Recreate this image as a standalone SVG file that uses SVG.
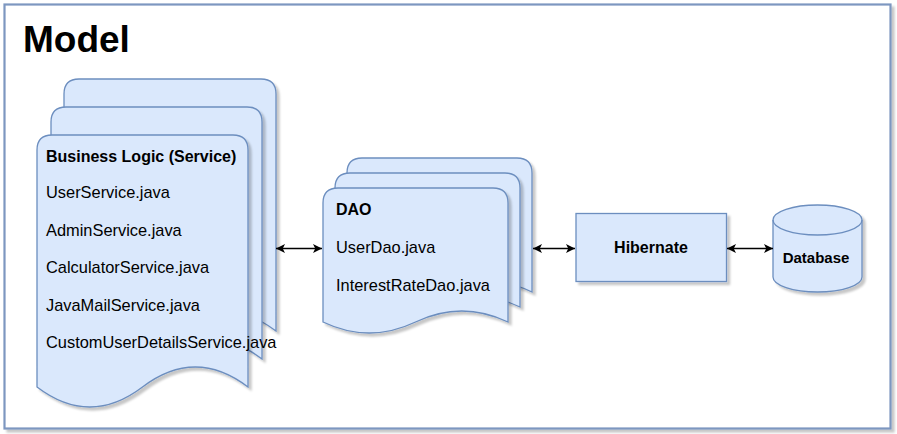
<svg xmlns="http://www.w3.org/2000/svg" width="897" height="434" viewBox="0 0 897 434">
<style>
.shape{fill:#dae8fc;stroke:#6c8ebf;stroke-width:1.3;filter:url(#sh)}
.t{font-family:"Liberation Sans",Arial,sans-serif;font-size:16.4px;fill:#000}
.b{font-weight:bold;font-size:16px}
.conn{stroke:#000;stroke-width:1.6;fill:none;marker-start:url(#ah);marker-end:url(#ah)}
</style>
<defs>
<filter id="sh" x="-10%" y="-10%" width="130%" height="130%">
<feDropShadow dx="3" dy="3" stdDeviation="1" flood-color="#000" flood-opacity="0.22"/>
</filter>
<marker id="ah" viewBox="0 0 10 10" refX="10" refY="5" markerWidth="9" markerHeight="9" markerUnits="userSpaceOnUse" orient="auto-start-reverse">
<path d="M0,0 L10,5 L0,10 L2.5,5 Z" fill="#000"/>
</marker>
</defs>
<rect x="0" y="0" width="897" height="434" fill="#ffffff"/>
<rect id="frame" x="4.5" y="4.5" width="886" height="424" fill="#ffffff" stroke="#7d97c0" stroke-width="2.2" filter="url(#sh)"/>
<text class="t b" x="23" y="52" style="font-size:37px">Model</text>

<g id="service">
<path class="shape" d="M64,331 L64,94 Q64,79 79,79 L261,79 Q276,79 276,94 L276,331 Q223,291 170,331 Q117,371 64,331 Z"/>
<path class="shape" d="M51,359 L51,122 Q51,107 66,107 L247,107 Q262,107 262,122 L262,359 Q209.25,319 156.5,359 Q103.75,399 51,359 Z"/>
<path class="shape" d="M37,387 L37,150 Q37,135 52,135 L233,135 Q248,135 248,150 L248,387 Q195.25,347 142.5,387 Q89.75,427 37,387 Z"/>
<text class="t b" x="46" y="162">Business Logic (Service)</text>
<text class="t" x="46" y="198">UserService.java</text>
<text class="t" x="46" y="236">AdminService.java</text>
<text class="t" x="46" y="273">CalculatorService.java</text>
<text class="t" x="46" y="311">JavaMailService.java</text>
<text class="t" x="46" y="348">CustomUserDetailsService.java</text>
</g>

<g id="dao">
<path class="shape" d="M347,292 L347,173 Q347,158 362,158 L517,158 Q532,158 532,173 L532,292 Q485.75,270 439.5,292 Q393.25,314 347,292 Z"/>
<path class="shape" d="M335,307 L335,188 Q335,173 350,173 L505,173 Q520,173 520,188 L520,307 Q473.75,285 427.5,307 Q381.25,329 335,307 Z"/>
<path class="shape" d="M323,322 L323,203 Q323,188 338,188 L493,188 Q508,188 508,203 L508,322 Q461.75,300 415.5,322 Q369.25,344 323,322 Z"/>
<text class="t b" x="336" y="215">DAO</text>
<text class="t" x="336" y="253">UserDao.java</text>
<text class="t" x="336" y="291">InterestRateDao.java</text>
</g>

<g id="hibernate">
<rect class="shape" x="576" y="213.5" width="150.5" height="68"/>
<text class="t b" x="651" y="253" text-anchor="middle">Hibernate</text>
</g>

<g id="database">
<path class="shape" d="M773,220 A44.5,15 0 0 1 862,220 L862,277 A44.5,15 0 0 1 773,277 Z"/>
<path d="M773,220 A44.5,15 0 0 0 862,220" fill="none" stroke="#6c8ebf" stroke-width="1.3"/>
<text class="t b" x="816" y="263" text-anchor="middle" style="font-size:15px">Database</text>
</g>

<g id="connectors">
<line class="conn" x1="276" y1="248.5" x2="322" y2="248.5"/>
<line class="conn" x1="533" y1="248.5" x2="575" y2="248.5"/>
<line class="conn" x1="727" y1="248.5" x2="773" y2="248.5"/>
</g>
</svg>
